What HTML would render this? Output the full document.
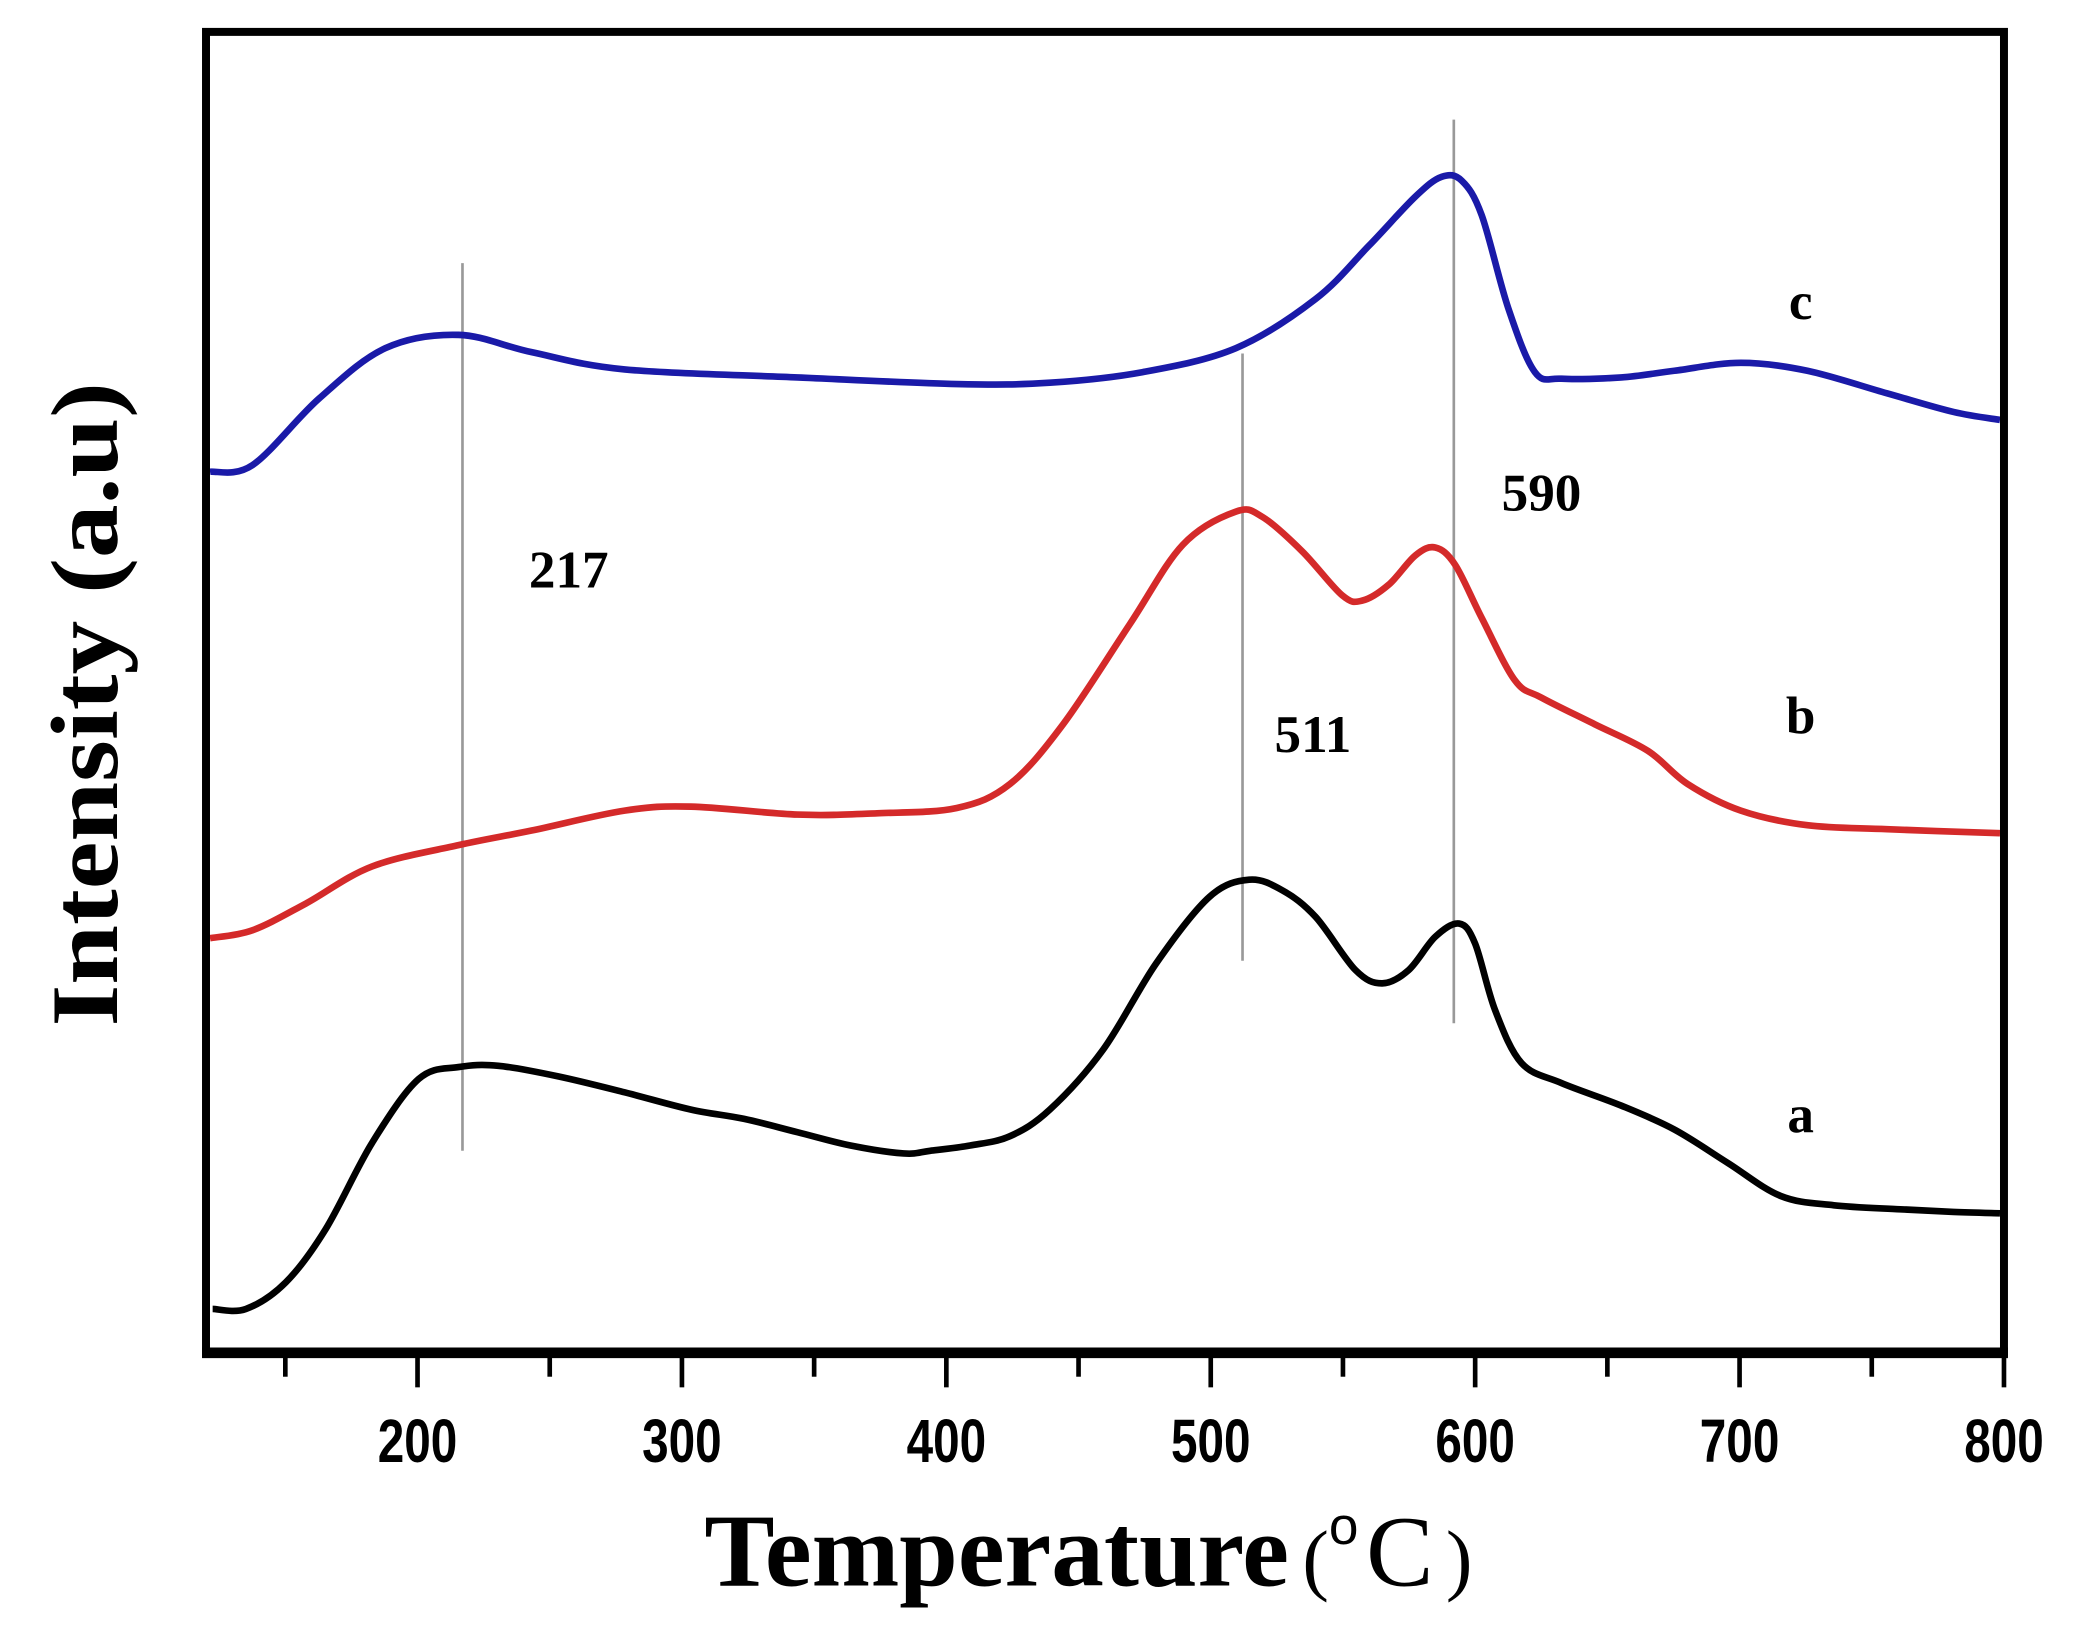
<!DOCTYPE html>
<html><head><meta charset="utf-8"><style>
html,body{margin:0;padding:0;background:#fff;}
svg{display:block;}
</style></head><body>
<svg id="s" width="2084" height="1630" viewBox="0 0 1568.2 1226.6" xmlns="http://www.w3.org/2000/svg">
<rect x="0" y="0" width="1568.2" height="1226.6" fill="#fff"/>
<g stroke="#999" stroke-width="2">
<line x1="348" y1="198" x2="348" y2="866"/>
<line x1="935" y1="266" x2="935" y2="723"/>
<line x1="1094" y1="90" x2="1094" y2="770"/>
</g>
<path id="pc" fill="none" stroke="#1a1aa8" stroke-width="5" stroke-linejoin="round"/>
<path id="pb" fill="none" stroke="#d42a2a" stroke-width="5" stroke-linejoin="round"/>
<path id="pa" fill="none" stroke="#000" stroke-width="5" stroke-linejoin="round"/>
<rect x="155" y="24" width="1353" height="994" fill="none" stroke="#000" stroke-width="6"/>
<line x1="152" y1="1018" x2="1511" y2="1018" stroke="#000" stroke-width="8"/>
<g id="ticks" stroke="#000" stroke-width="3.5"></g>
<g font-family="Liberation Sans, sans-serif" font-weight="bold" font-size="46" text-anchor="middle" id="tl"></g>
<g font-family="Liberation Serif, serif" font-weight="bold" font-size="40" fill="#000">
<text x="1355" y="240" text-anchor="middle">c</text>
<text x="1355" y="552" text-anchor="middle">b</text>
<text x="1355" y="852" text-anchor="middle">a</text>
<text x="428" y="442" text-anchor="middle">217</text>
<text x="988" y="566" text-anchor="middle">511</text>
<text x="1160" y="384" text-anchor="middle">590</text>
</g>
<text x="530" y="1193" font-family="Liberation Serif, serif" font-weight="bold" font-size="78" textLength="440" lengthAdjust="spacingAndGlyphs">Temperature</text>
<text x="980" y="1193" font-family="Liberation Serif, serif" font-size="60">(</text>
<text x="1000" y="1162" font-family="Liberation Sans, sans-serif" font-size="40">o</text>
<text x="1028" y="1193" font-family="Liberation Serif, serif" font-size="76">C</text>
<text x="1088" y="1193" font-family="Liberation Serif, serif" font-size="60">)</text>
<text transform="translate(88,530) rotate(-90)" text-anchor="middle" font-family="Liberation Serif, serif" font-weight="bold" font-size="72" textLength="485" lengthAdjust="spacingAndGlyphs">Intensity (a.u)</text>
</svg>
<script>
function cr(p){let d="M"+p[0][0]+","+p[0][1];for(let i=0;i<p.length-1;i++){const p0=p[Math.max(0,i-1)],p1=p[i],p2=p[i+1],p3=p[Math.min(p.length-1,i+2)];const c1=[p1[0]+(p2[0]-p0[0])/6,p1[1]+(p2[1]-p0[1])/6],c2=[p2[0]-(p3[0]-p1[0])/6,p2[1]-(p3[1]-p1[1])/6];d+=" C"+c1+" "+c2+" "+p2;}return d;}
const C=[[158,355],[190,350],[240,300],[290,262],[345,252],[400,265],[470,278],[600,284],[720,289],[790,288],[860,280],[930,262],[990,225],[1030,185],[1065,148],[1085,133],[1100,136],[1115,162],[1135,232],[1155,280],[1175,285],[1220,284],[1260,279],[1310,273],[1360,279],[1420,296],[1470,310],[1505,316]];
const B=[[158,706],[190,700],[230,680],[280,652],[345,636],[400,625],[470,610],[520,607],[600,613],[660,612],[720,608],[760,590],[800,545],[850,470],[890,410],[930,385],[950,389],[980,415],[1010,448],[1025,452],[1045,440],[1065,418],[1080,412],[1095,425],[1115,465],[1140,512],[1160,525],[1200,545],[1240,565],[1270,590],[1310,610],[1360,621],[1420,624],[1505,627]];
const A=[[160,985],[185,985],[215,965],[245,925],[280,860],[315,812],[345,803],[375,802],[420,810],[470,822],[520,835],[560,842],[600,852],[640,862],[680,868],[700,866],[730,862],[760,855],[790,835],[830,790],[870,725],[910,675],[940,662],[965,670],[990,690],[1020,730],[1040,740],[1060,730],[1080,705],[1098,695],[1110,710],[1125,760],[1145,800],[1175,815],[1220,832],[1260,850],[1300,875],[1340,900],[1380,907],[1430,910],[1470,912],[1505,913]];
document.getElementById('pc').setAttribute('d',cr(C));
document.getElementById('pb').setAttribute('d',cr(B));
document.getElementById('pa').setAttribute('d',cr(A));
const ns="http://www.w3.org/2000/svg";const tg=document.getElementById('ticks'),tl=document.getElementById('tl');
for(let T=150;T<=800;T+=50){const x=155+(T-120)*1353/680;const l=document.createElementNS(ns,'line');l.setAttribute('x1',x);l.setAttribute('x2',x);l.setAttribute('y1',1018);l.setAttribute('y2',T%100==0?1044:1036);tg.appendChild(l);
if(T%100==0){const t=document.createElementNS(ns,'text');t.setAttribute('transform','translate('+x+',1100) scale(0.78,1)');t.textContent=T;tl.appendChild(t);}}
</script>
</body></html>
